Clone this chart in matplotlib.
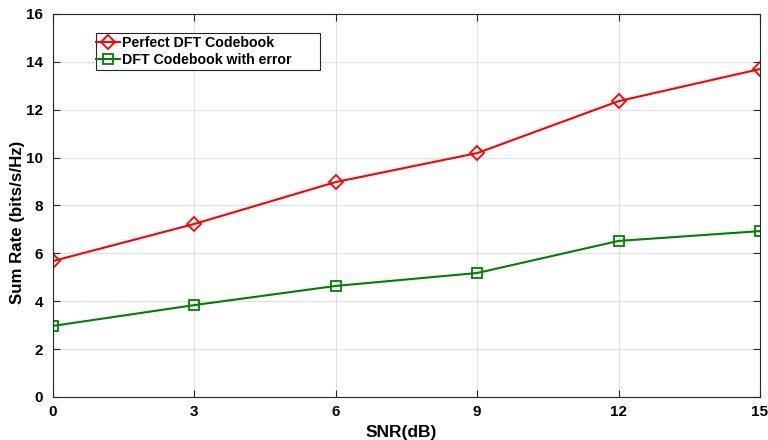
import matplotlib
matplotlib.use("Agg")
import matplotlib.pyplot as plt
from matplotlib.patches import Rectangle

snr = [0, 3, 6, 9, 12, 15]
perfect = [5.68, 7.23, 8.98, 10.19, 12.36, 13.70]
with_error = [2.97, 3.84, 4.64, 5.18, 6.52, 6.93]
xticks = [0, 3, 6, 9, 12, 15]
yticks = [0, 2, 4, 6, 8, 10, 12, 14, 16]

plt.rcParams['font.family'] = ['Liberation Sans', 'DejaVu Sans']
plt.rcParams['font.weight'] = 'bold'

W, H = 768, 440
fig = plt.figure(figsize=(7.68, 4.4), dpi=100)
ax = fig.add_axes([53/W, 1-397/H, (760-53)/W, (397-14)/H])

ax.plot(snr, perfect, color='#ff0000', marker='D', markersize=7, markerfacecolor='none',
        markeredgewidth=1.3, linewidth=1.5, label='Perfect DFT Codebook')
ax.plot(snr, with_error, color='#008000', marker='s', markersize=6.5, markerfacecolor='none',
        markeredgewidth=1.3, linewidth=1.5, label='DFT Codebook with error')

ax.set_xlim(0, 15)
ax.set_ylim(0, 16)
ax.set_xticks(xticks)
ax.set_yticks(yticks)
ax.tick_params(direction='in', labelsize=11, length=5, width=0.8, top=True, right=True, colors='#262626')
ax.tick_params(axis='y', pad=7)
ax.tick_params(axis='x', pad=6)
for lab in ax.get_xticklabels() + ax.get_yticklabels():
    lab.set_fontweight('bold')
    lab.set_color('black')
ax.grid(True, color='#e0e0e0', linewidth=0.8)
ax.set_axisbelow(True)
for s in ax.spines.values():
    s.set_color('#262626')
    s.set_linewidth(0.8)

ax.set_xlabel('SNR(dB)', fontsize=12.5, fontweight='bold')
ax.set_ylabel('Sum Rate (bits/s/Hz)', fontsize=12.2, fontweight='bold')
ax.xaxis.set_label_coords(0.492, -28/383, transform=ax.transAxes)
ax.yaxis.set_label_coords(-28/707, 0.457, transform=ax.transAxes)
ax.xaxis.label.set_va('top')

# legend frame (MATLAB-style wide box)
fig.patches.append(Rectangle((96/W, 1-70/H), (320-96)/W, (70-33)/H, transform=fig.transFigure,
                             facecolor='white', edgecolor='#262626', linewidth=0.8, zorder=5))
leg = fig.legend(loc='upper left', bbox_to_anchor=(93/W, 1-33/H), fontsize=10.2,
                 frameon=False, handlelength=1.7, handletextpad=0.15,
                 borderpad=0.2, labelspacing=0.25, borderaxespad=0)
leg.set_zorder(6)
for t in leg.get_texts():
    t.set_fontweight('bold')

fig.savefig('out.png', dpi=100)
